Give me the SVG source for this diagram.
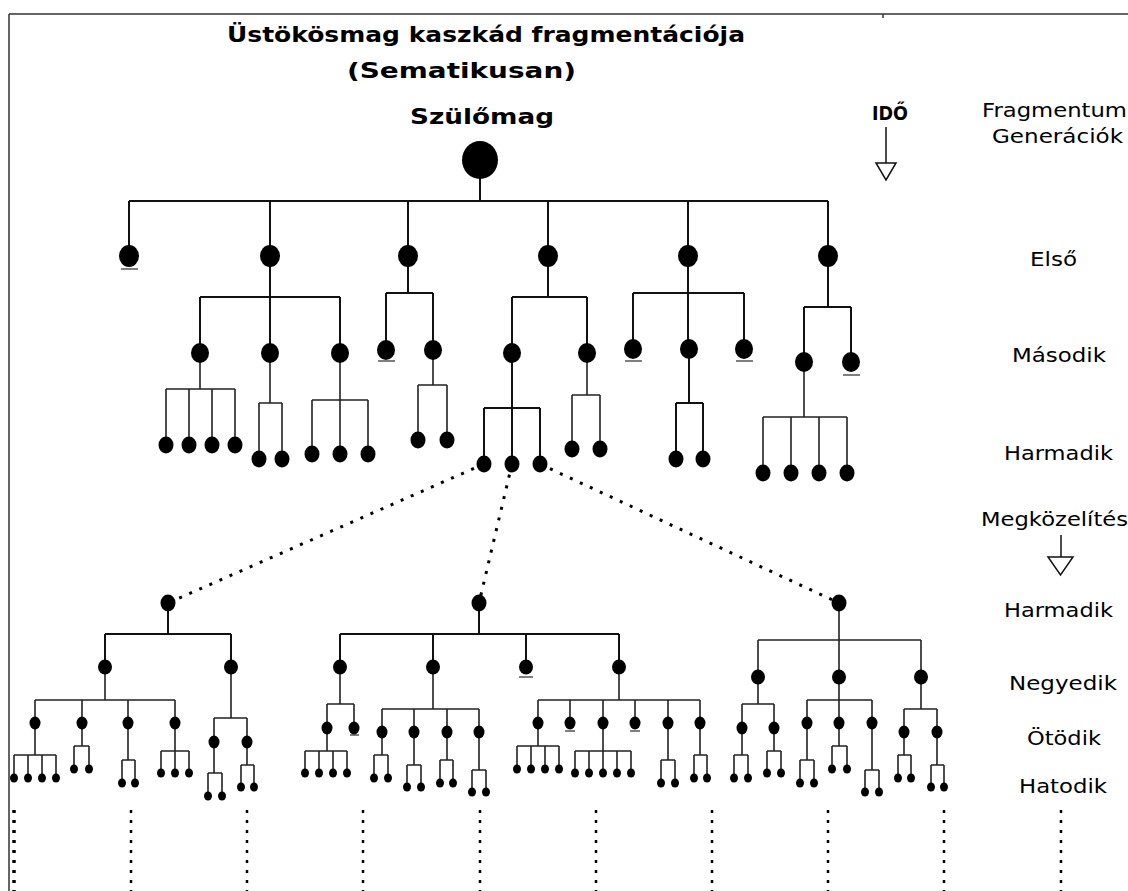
<svg xmlns="http://www.w3.org/2000/svg" width="1128" height="891" viewBox="0 0 1128 891">
<style>
.bg{fill:#fff}
.frame{stroke:#333;stroke-width:1.5;fill:none}
.ln{stroke:#111;stroke-width:2;fill:none}
.ln2{stroke:#222;stroke-width:1.6;fill:none}
.dot{stroke:#000;stroke-width:3;stroke-dasharray:3 8;fill:none}
.vd{stroke:#000;stroke-width:2.5;stroke-dasharray:3 7;fill:none}
.ul{stroke:#555;stroke-width:1.5}
.n{fill:#000}
.arr{stroke:#111;stroke-width:1.5;fill:#fff}
.t{font-family:"DejaVu Sans","Liberation Sans",sans-serif;fill:#000}
.b{font-weight:bold;font-size:21px}
.l{font-size:19px}
</style>
<rect class="bg" x="0" y="0" width="1128" height="891"/>
<g id="frame">
<path class="frame" d="M9,14H1128 M9,14V891 M883,14V18"/>
</g>
<g id="titles">
<text class="t b" x="227" y="42" textLength="518" lengthAdjust="spacingAndGlyphs">Üstökösmag kaszkád fragmentációja</text>
<text class="t b" x="347" y="78" textLength="229" lengthAdjust="spacingAndGlyphs">(Sematikusan)</text>
<text class="t b" x="410" y="124" textLength="144" lengthAdjust="spacingAndGlyphs">Szülőmag</text>
</g>
<g id="time">
<text class="t b" x="872" y="120" textLength="36" lengthAdjust="spacingAndGlyphs" style="font-size:20px">IDŐ</text>
<path class="arr" d="M886,127V163"/>
<path class="arr" d="M876,163H896L886,180Z"/>
</g>
<g id="labels">
<text class="t l" x="982" y="117" textLength="145" lengthAdjust="spacingAndGlyphs">Fragmentum</text>
<text class="t l" x="992" y="143" textLength="131" lengthAdjust="spacingAndGlyphs">Generációk</text>
<text class="t l" x="1030" y="266" textLength="47" lengthAdjust="spacingAndGlyphs">Első</text>
<text class="t l" x="1012" y="362" textLength="94" lengthAdjust="spacingAndGlyphs">Második</text>
<text class="t l" x="1004" y="460" textLength="109" lengthAdjust="spacingAndGlyphs">Harmadik</text>
<text class="t l" x="981" y="526" textLength="147" lengthAdjust="spacingAndGlyphs">Megközelítés</text>
<path class="arr" d="M1061,535V557"/>
<path class="arr" d="M1048,557H1073L1060.5,575Z"/>
<text class="t l" x="1004" y="617" textLength="109" lengthAdjust="spacingAndGlyphs">Harmadik</text>
<text class="t l" x="1009" y="690" textLength="108" lengthAdjust="spacingAndGlyphs">Negyedik</text>
<text class="t l" x="1027" y="745" textLength="74" lengthAdjust="spacingAndGlyphs">Ötödik</text>
<text class="t l" x="1019" y="793" textLength="88" lengthAdjust="spacingAndGlyphs">Hatodik</text>
</g>
<g id="connectors">
<path class="ln" d="M480,160V201 M129,201H828 M129,201V256 M270,201V256 M408,201V256 M548,201V256 M688,201V256 M828,201V256"/>
<path class="ln" d="M270,256V353 M200,297H340 M200,297V353 M340,297V353"/>
<path class="ln" d="M408,256V293 M386,293H433 M386,293V350 M433,293V350"/>
<path class="ln" d="M548,256V297 M512,297H587 M512,297V353 M587,297V353"/>
<path class="ln" d="M688,256V349 M633,293H744 M633,293V349 M744,293V349"/>
<path class="ln" d="M828,256V307 M804,307H851 M804,307V362 M851,307V362"/>
<path class="ln2" d="M200,353V389 M166,389H235 M166,389V445 M189,389V445 M212,389V445 M235,389V445"/>
<path class="ln2" d="M270,353V403 M259,403H282 M259,403V459 M282,403V459"/>
<path class="ln2" d="M340,353V454 M312,400H368 M312,400V454 M368,400V454"/>
<path class="ln2" d="M433,350V385 M418,385H447 M418,385V440 M447,385V440"/>
<path class="ln" d="M512,353V464 M484,408H540 M484,408V464 M540,408V464"/>
<path class="ln2" d="M587,353V395 M572,395H600 M572,395V449 M600,395V449"/>
<path class="ln" d="M689,349V403 M676,403H703 M676,403V459 M703,403V459"/>
<path class="ln2" d="M804,362V417 M763,417H847 M763,417V473 M791,417V473 M819,417V473 M847,417V473"/>
<path class="dot" d="M484,464L168,603"/>
<path class="dot" d="M512,464L479,603"/>
<path class="dot" d="M540,464L839,603"/>
<path class="ln" d="M168,603V634 M105,634H231 M105,634V667 M231,634V667"/>
<path class="ln2" d="M105,667V700 M35,700H175 M35,700V723 M82,700V723 M128,700V723 M175,700V723"/>
<path class="ln2" d="M35,723V755 M14,755H56 M14,755V778 M28,755V778 M42,755V778 M56,755V778"/>
<path class="ln2" d="M82,723V746 M74,746H89 M74,746V769 M89,746V769"/>
<path class="ln2" d="M128,723V760 M122,760H135 M122,760V783 M135,760V783"/>
<path class="ln2" d="M175,723V773 M161,751H189 M161,751V773 M189,751V773"/>
<path class="ln2" d="M231,667V718 M214,718H247 M214,718V742 M247,718V742"/>
<path class="ln2" d="M214,742V773 M208,773H222 M208,773V796 M222,773V796"/>
<path class="ln2" d="M247,742V765 M241,765H254 M241,765V787 M254,765V787"/>
<path class="ln" d="M479,603V634 M340,634H619 M340,634V667 M433,634V667 M526,634V667 M619,634V667"/>
<path class="ln2" d="M340,667V704 M327,704H354 M327,704V728 M354,704V728"/>
<path class="ln2" d="M327,728V751 M305,751H347 M305,751V773 M319,751V773 M333,751V773 M347,751V773"/>
<path class="ln2" d="M433,667V709 M382,709H479 M382,709V732 M414,709V732 M447,709V732 M479,709V732"/>
<path class="ln2" d="M382,732V755 M374,755H388 M374,755V778 M388,755V778"/>
<path class="ln2" d="M414,732V765 M407,765H421 M407,765V787 M421,765V787"/>
<path class="ln2" d="M447,732V760 M440,760H453 M440,760V783 M453,760V783"/>
<path class="ln2" d="M479,732V770 M472,770H486 M472,770V792 M486,770V792"/>
<path class="ln2" d="M619,667V700 M538,700H700 M538,700V723 M570,700V723 M603,700V723 M635,700V723 M668,700V723 M700,700V723"/>
<path class="ln2" d="M538,723V746 M517,746H559 M517,746V769 M531,746V769 M545,746V769 M559,746V769"/>
<path class="ln2" d="M603,723V773 M575,751H631 M575,751V773 M589,751V773 M617,751V773 M631,751V773"/>
<path class="ln2" d="M668,723V760 M661,760H675 M661,760V783 M675,760V783"/>
<path class="ln2" d="M700,723V755 M694,755H707 M694,755V778 M707,755V778"/>
<path class="ln2" d="M839,603V640 M758,640H921 M758,640V677 M839,640V677 M921,640V677"/>
<path class="ln2" d="M758,677V704 M742,704H774 M742,704V728 M774,704V728"/>
<path class="ln2" d="M742,728V755 M734,755H748 M734,755V778 M748,755V778"/>
<path class="ln2" d="M774,728V751 M767,751H781 M767,751V773 M781,751V773"/>
<path class="ln2" d="M839,677V723 M807,700H872 M807,700V723 M872,700V723"/>
<path class="ln2" d="M807,723V760 M800,760H814 M800,760V783 M814,760V783"/>
<path class="ln2" d="M839,723V746 M832,746H847 M832,746V769 M847,746V769"/>
<path class="ln2" d="M872,723V770 M865,770H879 M865,770V792 M879,770V792"/>
<path class="ln2" d="M921,677V709 M904,709H937 M904,709V732 M937,709V732"/>
<path class="ln2" d="M904,732V755 M898,755H911 M898,755V778 M911,755V778"/>
<path class="ln2" d="M937,732V765 M931,765H944 M931,765V787 M944,765V787"/>
<path class="vd" d="M14,810V891" style="stroke-width:3.5"/>
<path class="vd" d="M131,810V891 M247,810V891 M363,810V891 M480,810V891 M596,810V891 M712,810V891 M828,810V891 M944,810V891 M1061,810V891"/>
</g>
<g id="underlines">
<path class="ul" d="M121,269H138 M378,361H395 M625,361H642 M736,361H753 M843,375H860 M519,677H533 M350,735H359 M565,731H575 M630,731H640"/>
</g>
<g id="root"><ellipse class="n" cx="480" cy="160" rx="18" ry="19"/></g>
<g id="g1-1"><ellipse class="n" cx="129" cy="256" rx="10" ry="11"/></g>
<g id="g1-2"><ellipse class="n" cx="270" cy="256" rx="10" ry="11"/></g>
<g id="g1-3"><ellipse class="n" cx="408" cy="256" rx="10" ry="11"/></g>
<g id="g1-4"><ellipse class="n" cx="548" cy="256" rx="10" ry="11"/></g>
<g id="g1-5"><ellipse class="n" cx="688" cy="256" rx="10" ry="11"/></g>
<g id="g1-6"><ellipse class="n" cx="828" cy="256" rx="10" ry="11"/></g>
<g id="g2-1"><ellipse class="n" cx="200" cy="353" rx="9" ry="10"/></g>
<g id="g2-2"><ellipse class="n" cx="270" cy="353" rx="9" ry="10"/></g>
<g id="g2-3"><ellipse class="n" cx="340" cy="353" rx="9" ry="10"/></g>
<g id="g2-4"><ellipse class="n" cx="386" cy="350" rx="9" ry="10"/></g>
<g id="g2-5"><ellipse class="n" cx="433" cy="350" rx="9" ry="10"/></g>
<g id="g2-6"><ellipse class="n" cx="512" cy="353" rx="9" ry="10"/></g>
<g id="g2-7"><ellipse class="n" cx="587" cy="353" rx="9" ry="10"/></g>
<g id="g2-8"><ellipse class="n" cx="633" cy="349" rx="9" ry="10"/></g>
<g id="g2-9"><ellipse class="n" cx="689" cy="349" rx="9" ry="10"/></g>
<g id="g2-10"><ellipse class="n" cx="744" cy="349" rx="9" ry="10"/></g>
<g id="g2-11"><ellipse class="n" cx="804" cy="362" rx="9" ry="10"/></g>
<g id="g2-12"><ellipse class="n" cx="851" cy="362" rx="9" ry="10"/></g>
<g id="g3-1"><ellipse class="n" cx="166" cy="445" rx="7.5" ry="8.5"/></g>
<g id="g3-2"><ellipse class="n" cx="189" cy="445" rx="7.5" ry="8.5"/></g>
<g id="g3-3"><ellipse class="n" cx="212" cy="445" rx="7.5" ry="8.5"/></g>
<g id="g3-4"><ellipse class="n" cx="235" cy="445" rx="7.5" ry="8.5"/></g>
<g id="g3-5"><ellipse class="n" cx="259" cy="459" rx="7.5" ry="8.5"/></g>
<g id="g3-6"><ellipse class="n" cx="282" cy="459" rx="7.5" ry="8.5"/></g>
<g id="g3-7"><ellipse class="n" cx="312" cy="454" rx="7.5" ry="8.5"/></g>
<g id="g3-8"><ellipse class="n" cx="340" cy="454" rx="7.5" ry="8.5"/></g>
<g id="g3-9"><ellipse class="n" cx="368" cy="454" rx="7.5" ry="8.5"/></g>
<g id="g3-10"><ellipse class="n" cx="418" cy="440" rx="7.5" ry="8.5"/></g>
<g id="g3-11"><ellipse class="n" cx="447" cy="440" rx="7.5" ry="8.5"/></g>
<g id="g3-12"><ellipse class="n" cx="484" cy="464" rx="7.5" ry="8.5"/></g>
<g id="g3-13"><ellipse class="n" cx="512" cy="464" rx="7.5" ry="8.5"/></g>
<g id="g3-14"><ellipse class="n" cx="540" cy="464" rx="7.5" ry="8.5"/></g>
<g id="g3-15"><ellipse class="n" cx="572" cy="449" rx="7.5" ry="8.5"/></g>
<g id="g3-16"><ellipse class="n" cx="600" cy="449" rx="7.5" ry="8.5"/></g>
<g id="g3-17"><ellipse class="n" cx="676" cy="459" rx="7.5" ry="8.5"/></g>
<g id="g3-18"><ellipse class="n" cx="703" cy="459" rx="7.5" ry="8.5"/></g>
<g id="g3-19"><ellipse class="n" cx="763" cy="473" rx="7.5" ry="8.5"/></g>
<g id="g3-20"><ellipse class="n" cx="791" cy="473" rx="7.5" ry="8.5"/></g>
<g id="g3-21"><ellipse class="n" cx="819" cy="473" rx="7.5" ry="8.5"/></g>
<g id="g3-22"><ellipse class="n" cx="847" cy="473" rx="7.5" ry="8.5"/></g>
<g id="a3-1"><ellipse class="n" cx="168" cy="603" rx="7.5" ry="8.5"/></g>
<g id="a3-2"><ellipse class="n" cx="479" cy="603" rx="7.5" ry="8.5"/></g>
<g id="a3-3"><ellipse class="n" cx="839" cy="603" rx="7.5" ry="8.5"/></g>
<g id="g4-1"><ellipse class="n" cx="105" cy="667" rx="7" ry="7.5"/></g>
<g id="g4-2"><ellipse class="n" cx="231" cy="667" rx="7" ry="7.5"/></g>
<g id="g4-3"><ellipse class="n" cx="340" cy="667" rx="7" ry="7.5"/></g>
<g id="g4-4"><ellipse class="n" cx="433" cy="667" rx="7" ry="7.5"/></g>
<g id="g4-5"><ellipse class="n" cx="526" cy="667" rx="7" ry="7.5"/></g>
<g id="g4-6"><ellipse class="n" cx="619" cy="667" rx="7" ry="7.5"/></g>
<g id="g4-7"><ellipse class="n" cx="758" cy="677" rx="7" ry="7.5"/></g>
<g id="g4-8"><ellipse class="n" cx="839" cy="677" rx="7" ry="7.5"/></g>
<g id="g4-9"><ellipse class="n" cx="921" cy="677" rx="7" ry="7.5"/></g>
<g id="g5-1"><ellipse class="n" cx="35" cy="723" rx="5.5" ry="6.5"/></g>
<g id="g5-2"><ellipse class="n" cx="82" cy="723" rx="5.5" ry="6.5"/></g>
<g id="g5-3"><ellipse class="n" cx="128" cy="723" rx="5.5" ry="6.5"/></g>
<g id="g5-4"><ellipse class="n" cx="175" cy="723" rx="5.5" ry="6.5"/></g>
<g id="g5-5"><ellipse class="n" cx="214" cy="742" rx="5.5" ry="6.5"/></g>
<g id="g5-6"><ellipse class="n" cx="247" cy="742" rx="5.5" ry="6.5"/></g>
<g id="g5-7"><ellipse class="n" cx="327" cy="728" rx="5.5" ry="6.5"/></g>
<g id="g5-8"><ellipse class="n" cx="354" cy="728" rx="5.5" ry="6.5"/></g>
<g id="g5-9"><ellipse class="n" cx="382" cy="732" rx="5.5" ry="6.5"/></g>
<g id="g5-10"><ellipse class="n" cx="414" cy="732" rx="5.5" ry="6.5"/></g>
<g id="g5-11"><ellipse class="n" cx="447" cy="732" rx="5.5" ry="6.5"/></g>
<g id="g5-12"><ellipse class="n" cx="479" cy="732" rx="5.5" ry="6.5"/></g>
<g id="g5-13"><ellipse class="n" cx="538" cy="723" rx="5.5" ry="6.5"/></g>
<g id="g5-14"><ellipse class="n" cx="570" cy="723" rx="5.5" ry="6.5"/></g>
<g id="g5-15"><ellipse class="n" cx="603" cy="723" rx="5.5" ry="6.5"/></g>
<g id="g5-16"><ellipse class="n" cx="635" cy="723" rx="5.5" ry="6.5"/></g>
<g id="g5-17"><ellipse class="n" cx="668" cy="723" rx="5.5" ry="6.5"/></g>
<g id="g5-18"><ellipse class="n" cx="700" cy="723" rx="5.5" ry="6.5"/></g>
<g id="g5-19"><ellipse class="n" cx="742" cy="728" rx="5.5" ry="6.5"/></g>
<g id="g5-20"><ellipse class="n" cx="774" cy="728" rx="5.5" ry="6.5"/></g>
<g id="g5-21"><ellipse class="n" cx="807" cy="723" rx="5.5" ry="6.5"/></g>
<g id="g5-22"><ellipse class="n" cx="839" cy="723" rx="5.5" ry="6.5"/></g>
<g id="g5-23"><ellipse class="n" cx="872" cy="723" rx="5.5" ry="6.5"/></g>
<g id="g5-24"><ellipse class="n" cx="904" cy="732" rx="5.5" ry="6.5"/></g>
<g id="g5-25"><ellipse class="n" cx="937" cy="732" rx="5.5" ry="6.5"/></g>
<g id="g6-1"><ellipse class="n" cx="14" cy="778" rx="4" ry="4.5"/></g>
<g id="g6-2"><ellipse class="n" cx="28" cy="778" rx="4" ry="4.5"/></g>
<g id="g6-3"><ellipse class="n" cx="42" cy="778" rx="4" ry="4.5"/></g>
<g id="g6-4"><ellipse class="n" cx="56" cy="778" rx="4" ry="4.5"/></g>
<g id="g6-5"><ellipse class="n" cx="74" cy="769" rx="4" ry="4.5"/></g>
<g id="g6-6"><ellipse class="n" cx="89" cy="769" rx="4" ry="4.5"/></g>
<g id="g6-7"><ellipse class="n" cx="122" cy="783" rx="4" ry="4.5"/></g>
<g id="g6-8"><ellipse class="n" cx="135" cy="783" rx="4" ry="4.5"/></g>
<g id="g6-9"><ellipse class="n" cx="161" cy="773" rx="4" ry="4.5"/></g>
<g id="g6-10"><ellipse class="n" cx="175" cy="773" rx="4" ry="4.5"/></g>
<g id="g6-11"><ellipse class="n" cx="189" cy="773" rx="4" ry="4.5"/></g>
<g id="g6-12"><ellipse class="n" cx="208" cy="796" rx="4" ry="4.5"/></g>
<g id="g6-13"><ellipse class="n" cx="222" cy="796" rx="4" ry="4.5"/></g>
<g id="g6-14"><ellipse class="n" cx="241" cy="787" rx="4" ry="4.5"/></g>
<g id="g6-15"><ellipse class="n" cx="254" cy="787" rx="4" ry="4.5"/></g>
<g id="g6-16"><ellipse class="n" cx="305" cy="773" rx="4" ry="4.5"/></g>
<g id="g6-17"><ellipse class="n" cx="319" cy="773" rx="4" ry="4.5"/></g>
<g id="g6-18"><ellipse class="n" cx="333" cy="773" rx="4" ry="4.5"/></g>
<g id="g6-19"><ellipse class="n" cx="347" cy="773" rx="4" ry="4.5"/></g>
<g id="g6-20"><ellipse class="n" cx="374" cy="778" rx="4" ry="4.5"/></g>
<g id="g6-21"><ellipse class="n" cx="388" cy="778" rx="4" ry="4.5"/></g>
<g id="g6-22"><ellipse class="n" cx="407" cy="787" rx="4" ry="4.5"/></g>
<g id="g6-23"><ellipse class="n" cx="421" cy="787" rx="4" ry="4.5"/></g>
<g id="g6-24"><ellipse class="n" cx="440" cy="783" rx="4" ry="4.5"/></g>
<g id="g6-25"><ellipse class="n" cx="453" cy="783" rx="4" ry="4.5"/></g>
<g id="g6-26"><ellipse class="n" cx="472" cy="792" rx="4" ry="4.5"/></g>
<g id="g6-27"><ellipse class="n" cx="486" cy="792" rx="4" ry="4.5"/></g>
<g id="g6-28"><ellipse class="n" cx="517" cy="769" rx="4" ry="4.5"/></g>
<g id="g6-29"><ellipse class="n" cx="531" cy="769" rx="4" ry="4.5"/></g>
<g id="g6-30"><ellipse class="n" cx="545" cy="769" rx="4" ry="4.5"/></g>
<g id="g6-31"><ellipse class="n" cx="559" cy="769" rx="4" ry="4.5"/></g>
<g id="g6-32"><ellipse class="n" cx="575" cy="773" rx="4" ry="4.5"/></g>
<g id="g6-33"><ellipse class="n" cx="589" cy="773" rx="4" ry="4.5"/></g>
<g id="g6-34"><ellipse class="n" cx="603" cy="773" rx="4" ry="4.5"/></g>
<g id="g6-35"><ellipse class="n" cx="617" cy="773" rx="4" ry="4.5"/></g>
<g id="g6-36"><ellipse class="n" cx="631" cy="773" rx="4" ry="4.5"/></g>
<g id="g6-37"><ellipse class="n" cx="661" cy="783" rx="4" ry="4.5"/></g>
<g id="g6-38"><ellipse class="n" cx="675" cy="783" rx="4" ry="4.5"/></g>
<g id="g6-39"><ellipse class="n" cx="694" cy="778" rx="4" ry="4.5"/></g>
<g id="g6-40"><ellipse class="n" cx="707" cy="778" rx="4" ry="4.5"/></g>
<g id="g6-41"><ellipse class="n" cx="734" cy="778" rx="4" ry="4.5"/></g>
<g id="g6-42"><ellipse class="n" cx="748" cy="778" rx="4" ry="4.5"/></g>
<g id="g6-43"><ellipse class="n" cx="767" cy="773" rx="4" ry="4.5"/></g>
<g id="g6-44"><ellipse class="n" cx="781" cy="773" rx="4" ry="4.5"/></g>
<g id="g6-45"><ellipse class="n" cx="800" cy="783" rx="4" ry="4.5"/></g>
<g id="g6-46"><ellipse class="n" cx="814" cy="783" rx="4" ry="4.5"/></g>
<g id="g6-47"><ellipse class="n" cx="832" cy="769" rx="4" ry="4.5"/></g>
<g id="g6-48"><ellipse class="n" cx="847" cy="769" rx="4" ry="4.5"/></g>
<g id="g6-49"><ellipse class="n" cx="865" cy="792" rx="4" ry="4.5"/></g>
<g id="g6-50"><ellipse class="n" cx="879" cy="792" rx="4" ry="4.5"/></g>
<g id="g6-51"><ellipse class="n" cx="898" cy="778" rx="4" ry="4.5"/></g>
<g id="g6-52"><ellipse class="n" cx="911" cy="778" rx="4" ry="4.5"/></g>
<g id="g6-53"><ellipse class="n" cx="931" cy="787" rx="4" ry="4.5"/></g>
<g id="g6-54"><ellipse class="n" cx="944" cy="787" rx="4" ry="4.5"/></g>
</svg>
